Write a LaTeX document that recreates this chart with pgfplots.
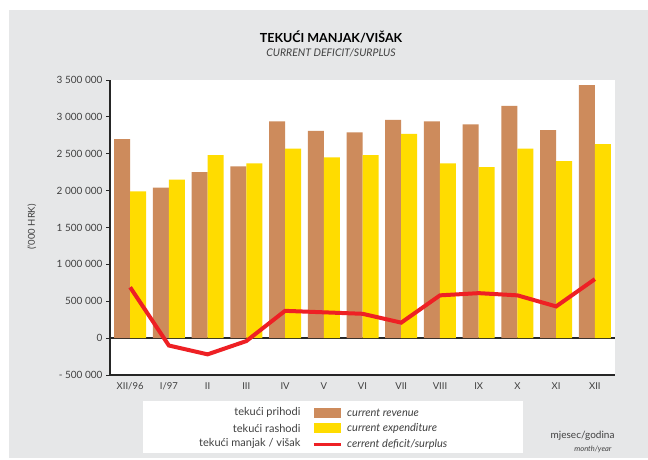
\documentclass[border=0pt]{standalone}
\usepackage{pgfplots}
\pgfplotsset{compat=1.18}
\usepackage{fontspec}
\setmainfont{Lato}
\definecolor{bgray}{HTML}{E6E7E8}
\definecolor{rev}{HTML}{CD8B5C}
\definecolor{expc}{HTML}{FFDC00}
\definecolor{defl}{HTML}{EE2024}
\definecolor{txt}{HTML}{404040}
\begin{document}
\begin{tikzpicture}[x=1pt,y=1pt]
\fill[white] (0,0) rectangle (648,459);
\fill[bgray] (9,1) rectangle (648,449);
\node[font=\bfseries\fontsize{12.5}{14}\selectfont, text=black] at (331,422) {TEKUĆI MANJAK/VIŠAK};
\node[font=\itshape\fontsize{10.5}{12}\selectfont, text=txt] at (331,406) {CURRENT DEFICIT/SURPLUS};
\fill[white] (143,6) rectangle (523,58);
\begin{axis}[at={(110pt,84pt)}, anchor=south west, width=505pt, height=295pt, scale only axis,
 xmin=-0.52, xmax=12.52, ymin=-500000, ymax=3500000,
 scaled y ticks=false,
 axis background/.style={fill=white},
 axis x line*=bottom, axis y line*=left,
 axis line style={-, line width=1.6pt, black!85},
 xtick={0,...,12},
 xticklabels={XII/96,I/97,II,III,IV,V,VI,VII,VIII,IX,X,XI,XII},
 x tick style={draw=none},
 ytick={-500000,0,500000,1000000,1500000,2000000,2500000,3000000,3500000},
 yticklabels={- 500 000,0,500 000,1 000 000,1 500 000,2 000 000,2 500 000,3 000 000,3 500 000},
 y tick style={black!85, line width=0.8pt},
 tick align=outside, major tick length=4pt,
 yticklabel style={font=\fontsize{10}{12}\selectfont, text=txt},
 xticklabel style={font=\fontsize{9.5}{11}\selectfont, text=txt},
 legend style={at={(0.4,-0.11)}, anchor=north west, draw=none, fill=none, inner sep=0pt,
   row sep=4.1pt, font=\itshape\fontsize{11}{12}\selectfont, text=txt,
   nodes={inner sep=1pt, anchor=west}},
 legend cell align=left,
 clip=false,
]
\addplot[draw=none, forget plot] coordinates {(0,0)};
\draw[black!85, line width=1.6pt] (axis cs:-0.52,0) -- (axis cs:12.52,0);
\addplot[ybar, bar width=16pt, bar shift=-8pt, fill=rev, draw=none,
  legend image code/.code={\fill[rev] (0pt,-5pt) rectangle (27pt,5pt);}]
 coordinates {(0,2700000) (1,2040000) (2,2250000) (3,2330000) (4,2940000) (5,2810000)
 (6,2790000) (7,2960000) (8,2940000) (9,2900000) (10,3150000) (11,2820000) (12,3430000)};
\addlegendentry{\hspace{4pt}current revenue}
\addplot[ybar, bar width=16pt, bar shift=8pt, fill=expc, draw=none,
  legend image code/.code={\fill[expc] (0pt,-5pt) rectangle (27pt,5pt);}]
 coordinates {(0,1990000) (1,2150000) (2,2480000) (3,2370000) (4,2570000) (5,2450000)
 (6,2480000) (7,2770000) (8,2370000) (9,2320000) (10,2570000) (11,2400000) (12,2630000)};
\addlegendentry{\hspace{4pt}current expenditure}
\addplot[defl, line width=4pt, sharp plot, mark=none,
  legend image code/.code={\draw[defl, line width=3pt] (0pt,0pt) -- (27pt,0pt);}]
 coordinates {(0,690000) (1,-100000) (2,-220000) (3,-40000) (4,370000) (5,350000)
 (6,330000) (7,210000) (8,580000) (9,610000) (10,580000) (11,430000) (12,800000)};
\addlegendentry{\hspace{4pt}cerrent deficit/surplus}
\end{axis}
\node[rotate=90, font=\fontsize{9.5}{11}\selectfont, text=txt] at (32,232) {('000 HRK)};
\node[anchor=east, font=\fontsize{11}{12}\selectfont, text=txt] at (304,47) {tekući prihodi};
\node[anchor=east, font=\fontsize{11}{12}\selectfont, text=txt] at (304,31) {tekući rashodi};
\node[anchor=east, font=\fontsize{11}{12}\selectfont, text=txt] at (304,16) {tekući manjak / višak};
\node[anchor=east, font=\fontsize{10}{11}\selectfont, text=txt] at (618,23) {mjesec/godina};
\node[anchor=east, font=\itshape\fontsize{7.5}{8}\selectfont, text=txt] at (615,10) {month/year};
\end{tikzpicture}
\end{document}
